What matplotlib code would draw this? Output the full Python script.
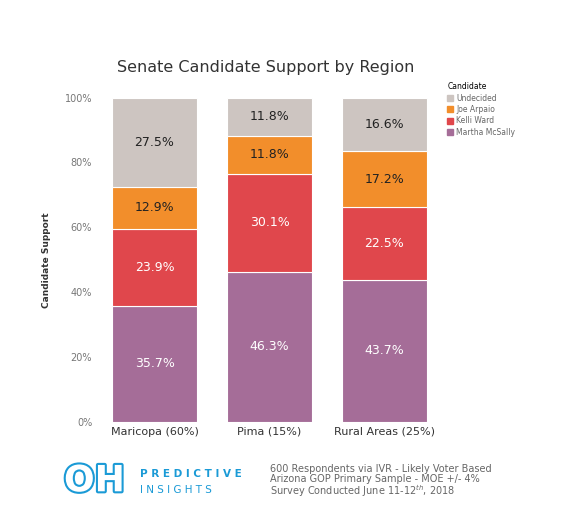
import matplotlib
matplotlib.use("Agg")
import matplotlib.pyplot as plt
from matplotlib.patches import Patch
import matplotlib.patheffects as pe

regions = ["Maricopa (60%)", "Pima (15%)", "Rural Areas (25%)"]
candidates = ["Martha McSally", "Kelli Ward", "Joe Arpaio", "Undecided"]
mcsally = [35.7, 46.3, 43.7]
ward = [23.9, 30.1, 22.5]
arpaio = [12.9, 11.8, 17.2]
undecided = [27.5, 11.8, 16.6]
series = [mcsally, ward, arpaio, undecided]
colors = ["#a56d98", "#e0474c", "#f28e2b", "#cdc5c1"]
txtcol = ["white", "white", "#222222", "#222222"]

fig = plt.figure(figsize=(5.71, 5.22), dpi=100)
ax = fig.add_axes([0.170, 0.192, 0.604, 0.621])
x = list(range(len(regions)))
bottom = [0, 0, 0]
for vals, c, tc in zip(series, colors, txtcol):
    ax.bar(x, vals, bottom=bottom, width=0.74, color=c, edgecolor="white", linewidth=0.8)
    for i, v in enumerate(vals):
        ax.text(i, bottom[i] + v / 2, f"{v}%", ha="center", va="center", color=tc, fontsize=9)
    bottom = [b + v for b, v in zip(bottom, vals)]
ax.set_xlim(-0.5, 2.5)
ax.set_ylim(0, 100)
ax.set_yticks([0, 20, 40, 60, 80, 100])
ax.set_yticklabels([f"{t}%" for t in [0, 20, 40, 60, 80, 100]], fontsize=7, color="#777777")
ax.set_xticks(x)
ax.set_xticklabels(regions, fontsize=8, color="#333333")
ax.tick_params(length=0)
for s in ax.spines.values():
    s.set_visible(False)
ax.set_ylabel("Candidate Support", fontsize=6.5, fontweight="bold", color="#333333", labelpad=10)
fig.text(0.205, 0.862, "Senate Candidate Support by Region", fontsize=11.5, color="#333333")

handles = [Patch(color=c) for c in colors[::-1]]
leg = fig.legend(handles, candidates[::-1], loc="upper left", bbox_to_anchor=(0.778, 0.848),
                 frameon=False, fontsize=5.5, title="Candidate", title_fontsize=5.5,
                 handlelength=0.8, handleheight=0.8, handletextpad=0.4, labelspacing=0.3,
                 alignment="left", borderaxespad=0)
for t in leg.get_texts():
    t.set_color("#666666")

fig.text(0.112, 0.078, "OH", fontsize=26, fontweight="bold", color="white",
         path_effects=[pe.withStroke(linewidth=3, foreground="#1a9ad6")], va="center")
fig.text(0.245, 0.092, "P R E D I C T I V E", fontsize=7.5, fontweight="bold", color="#1a9ad6", va="center")
fig.text(0.245, 0.062, "I N S I G H T S", fontsize=7.5, color="#1a9ad6", va="center")
fig.text(0.472, 0.077, "600 Respondents via IVR - Likely Voter Based\nArizona GOP Primary Sample - MOE +/- 4%\nSurvey Conducted June 11-12$^{th}$, 2018",
         fontsize=7, color="#666666", va="center", linespacing=0.95)
fig.savefig("out.png", dpi=100)
